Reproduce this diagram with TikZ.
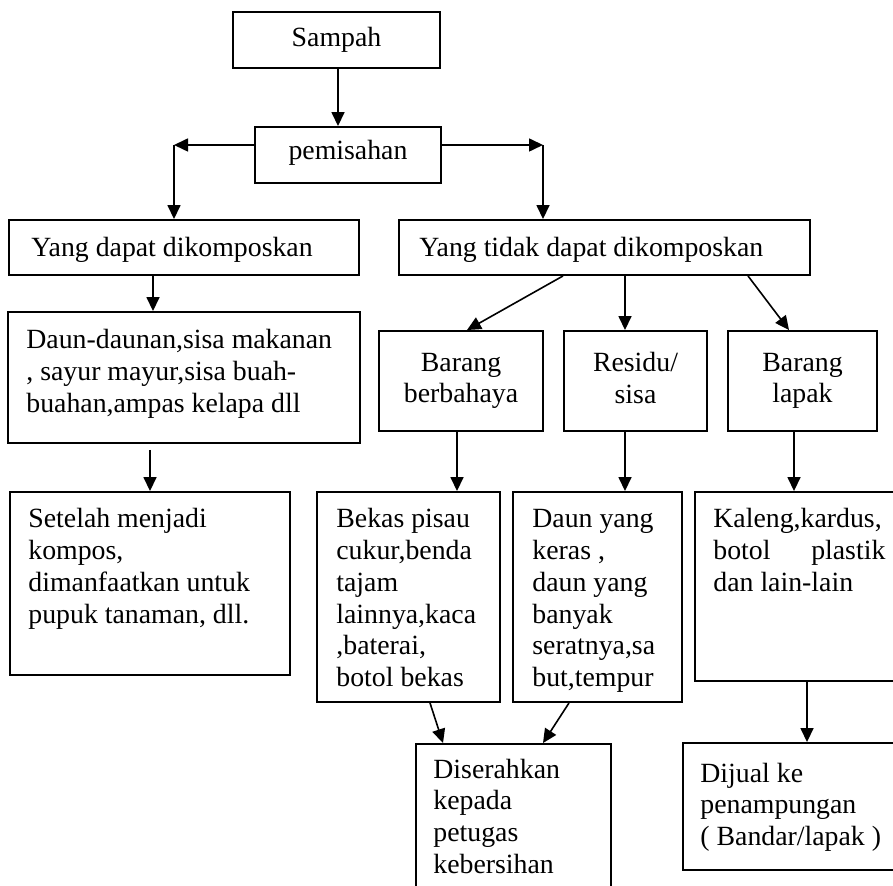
\documentclass[tikz,border=0pt]{standalone}
\usepackage{fontspec}
\setmainfont{Liberation Serif}
\usetikzlibrary{arrows.meta,fit}

\newcommand\diagfont{\fontsize{13.9pt}{15.85pt}\selectfont}
\newcommand\boxlines[1]{\parbox[t]{200pt}{\diagfont\raggedright #1}}

\begin{document}
\begin{tikzpicture}[x=0.5pt,y=-0.5pt,
  box/.style={draw,line width=0.95pt,inner sep=0pt,rectangle},
  ctr/.style={inner sep=0pt,align=center,font=\diagfont},
  arr/.style={line width=0.8pt,-{Triangle[length=7pt,width=6.5pt]}},
  lbl/.style={inner sep=0pt,anchor=base west,font=\diagfont}]

\useasboundingbox (0,0) rectangle (893,886);
\clip (0,0) rectangle (893,886);

% boxes
\node[box,fit={(233,12)(440,68)}] (sampah) {};
\node[box,fit={(255,127)(441,183)}] (pemisahan) {};
\node[box,fit={(9,220)(359,275)}] (kompos) {};
\node[box,fit={(399,220)(810,275)}] (tidak) {};
\node[box,fit={(8,312)(360,443)}] (daun) {};
\node[box,fit={(379,331)(543,431)}] (berbahaya) {};
\node[box,fit={(564,331)(707,431)}] (residu) {};
\node[box,fit={(728,331)(877,431)}] (lapak) {};
\node[box,fit={(10,492)(290,675)}] (setelah) {};
\node[box,fit={(317,492)(500,702)}] (bekas) {};
\node[box,fit={(513,492)(682,702)}] (daunyang) {};
\node[box,fit={(695,492)(905,681)}] (kaleng) {};
\node[box,fit={(416,744)(611,905)}] (diserahkan) {};
\node[box,fit={(683,743)(905,870)}] (dijual) {};

% centred texts
\node[ctr] (tsampah) at (sampah.center) {Sampah};
\node[ctr] (tpemisahan) at (348,153) {pemisahan};
\node[ctr] (tberbahaya) at (berbahaya.center) {Barang\\berbahaya};
\node[ctr,yshift=1.5pt] (tresidu) at (residu.center) {Residu/\\sisa};
\node[ctr] (tlapak) at (lapak.center) {Barang\\lapak};

% left aligned texts
\node[lbl] (tkompos) at (31,257) {Yang dapat dikomposkan};
\node[lbl] (ttidak) at (419,257) {Yang tidak dapat dikomposkan};
\node[lbl] (tdaun) at (26,349) {\boxlines{Daun-daunan,sisa makanan\\, sayur mayur,sisa buah-\\buahan,ampas kelapa dll}};
\node[lbl] (tsetelah) at (28,528) {\boxlines{Setelah menjadi\\kompos,\\dimanfaatkan untuk\\pupuk tanaman, dll.}};
\node[lbl] (tbekas) at (336,528) {\boxlines{Bekas pisau\\cukur,benda\\tajam\\lainnya,kaca\\,baterai,\\botol bekas}};
\node[lbl] (tdaunyang) at (532,528) {\boxlines{Daun yang\\keras ,\\daun yang\\banyak\\seratnya,sa\\but,tempur}};
\node[lbl] (tkaleng) at (713,528) {\boxlines{Kaleng,kardus,\\\makebox[86pt][s]{botol plastik}\\dan lain-lain}};
\node[lbl] (tdiserahkan) at (433,778) {\boxlines{Diserahkan\\kepada\\petugas\\kebersihan}};
\node[lbl] (tdijual) at (700,782) {\boxlines{Dijual ke\\penampungan\\( Bandar/lapak )}};

% connector columns and joints
\coordinate (c338) at (338,0);
\coordinate (ljoin) at (174,145);
\coordinate (rjoin) at (543,145);
\coordinate (c153) at (153,0);
\coordinate (dstart) at (150,450);
\coordinate (c563) at (563,0);
\coordinate (c467) at (467,0);
\coordinate (c625) at (625,0);
\coordinate (c748) at (748,0);
\coordinate (c789) at (789,0);
\coordinate (c457) at (457,0);
\coordinate (c794) at (794,0);
\coordinate (c430) at (430,0);
\coordinate (c443) at (443,0);
\coordinate (c569) at (569,0);
\coordinate (c543) at (543,0);
\coordinate (c807) at (807,0);

% connectors
\draw[arr] (sampah.south -| c338) -- (pemisahan.north -| c338);
\draw[arr] (pemisahan.west |- ljoin) -- (ljoin);
\draw[arr] (ljoin) -- (kompos.north -| ljoin);
\draw[arr] (pemisahan.east |- rjoin) -- (rjoin);
\draw[arr] (rjoin) -- (tidak.north -| rjoin);
\draw[arr] (kompos.south -| c153) -- (daun.north -| c153);
\draw[arr] (dstart) -- (setelah.north -| dstart);
\draw[arr] (tidak.south -| c563) -- (berbahaya.north -| c467);
\draw[arr] (tidak.south -| c625) -- (residu.north -| c625);
\draw[arr] (tidak.south -| c748) -- (lapak.north -| c789);
\draw[arr] (berbahaya.south -| c457) -- (bekas.north -| c457);
\draw[arr] (residu.south -| c625) -- (daunyang.north -| c625);
\draw[arr] (lapak.south -| c794) -- (kaleng.north -| c794);
\draw[arr] (bekas.south -| c430) -- (diserahkan.north -| c443);
\draw[arr] (daunyang.south -| c569) -- (diserahkan.north -| c543);
\draw[arr] (kaleng.south -| c807) -- (dijual.north -| c807);
\end{tikzpicture}
\end{document}
